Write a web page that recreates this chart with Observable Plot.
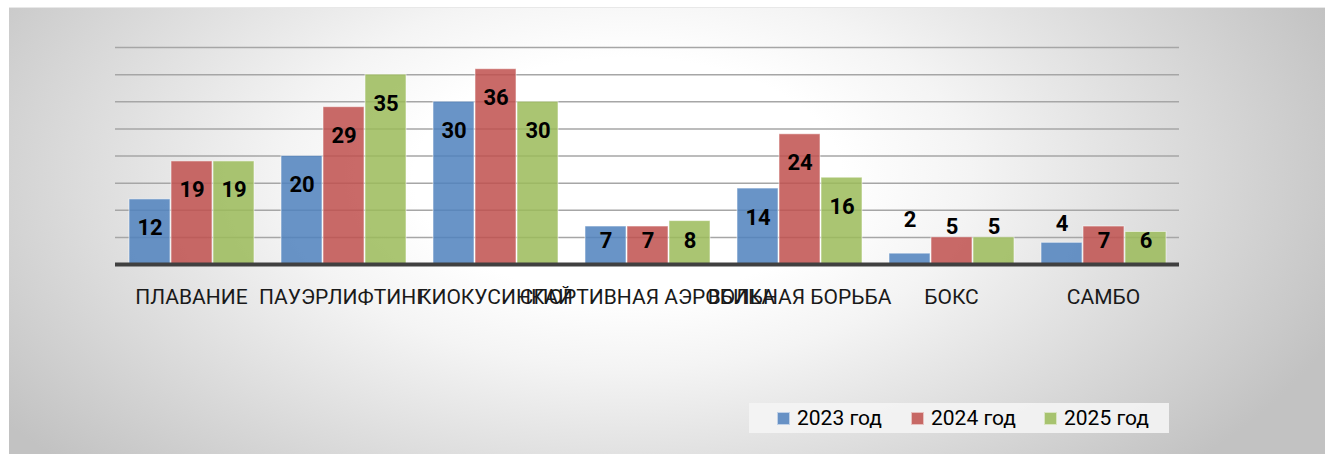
<!DOCTYPE html>
<html>
<head>
<meta charset="utf-8">
<script src="https://cdn.jsdelivr.net/npm/d3@7"></script>
<script src="https://cdn.jsdelivr.net/npm/@observablehq/plot@0.6"></script>
<style>
  html, body { margin: 0; padding: 0; background: #fff; }
  #page { position: relative; width: 1325px; height: 454px; overflow: hidden; font-family: Roboto, "Noto Sans", sans-serif; }
  #bg { position: absolute; left: 9px; top: 7px; width: 1316px; height: 447px;
        background: radial-gradient(ellipse 58% 95% at 47% 38%, #ffffff 28%, #f4f4f4 45%, #c2c2c2 100%); }
  #bgline { position: absolute; left: 9px; top: 7px; width: 1316px; height: 1px; background: #e8e8e8; }
  #chart { position: absolute; left: 0; top: 0; }
  #legend { position: absolute; left: 749px; top: 403px; width: 420px; height: 30px; background: rgba(244,244,244,0.9); }
  .li { position: absolute; top: 0; height: 30px; display: flex; align-items: center; font-size: 21px; color: #000; white-space: nowrap; }
  .sw { width: 13px; height: 13px; margin-right: 7px; box-sizing: border-box; border: 1px solid rgba(255,255,255,0.6); }
</style>
</head>
<body>
<div id="page">
  <div id="bg"></div>
  <div id="bgline"></div>
  <div id="chart"></div>
  <div id="legend"></div>
</div>
<script>
const categories = ["ПЛАВАНИЕ", "ПАУЭРЛИФТИНГ", "КИОКУСИНКАЙ", "СПОРТИВНАЯ АЭРОБИКА", "ВОЛЬНАЯ БОРЬБА", "БОКС", "САМБО"];
const years = ["2023 год", "2024 год", "2025 год"];
const values2023 = [12, 20, 30, 7, 14, 2, 4];
const values2024 = [19, 29, 36, 7, 24, 5, 7];
const values2025 = [19, 35, 30, 8, 16, 5, 6];
const colors = ["#4F81BD", "#C0504D", "#9BBB59"];
const gridTicks = [5, 10, 15, 20, 25, 30, 35, 40];

const series = [values2023, values2024, values2025];
const data = [];
categories.forEach((c, i) => {
  years.forEach((y, j) => data.push({category: c, year: y, value: series[j][i]}));
});

// data label placement similar to the source (inside end, small bars above)
function labelY(v) {
  if (v >= 12) return v - 5.35;
  if (v >= 6) return 4.4;
  return 9 - v * 0.4;
}

const chart = Plot.plot({
  width: 1325,
  height: 330,
  marginTop: 47,
  marginBottom: 66,
  marginLeft: 113,
  marginRight: 145,
  style: {background: "transparent", fontFamily: "Roboto, 'Noto Sans', sans-serif", overflow: "visible"},
  fx: {domain: categories, padding: 0, axis: null},
  x: {domain: years, paddingInner: 0.03, paddingOuter: 0.32, axis: null},
  y: {domain: [0, 40], axis: null},
  color: {domain: years, range: colors},
  marks: [
    Plot.ruleY(gridTicks, {y: d => d, stroke: "#a6a6a6", strokeWidth: 1.5}),
    Plot.barY(data, {fx: "category", x: "year", y: "value", fill: "year", fillOpacity: 0.85,
                     stroke: "#ffffff", strokeOpacity: 0.55, strokeWidth: 1}),
    Plot.ruleY([0], {stroke: "#404040", strokeWidth: 4}),
    Plot.text(data, {fx: "category", x: "year", y: d => labelY(d.value), text: d => String(d.value),
                     fontSize: 22, fontWeight: "bold", fill: "#000", lineAnchor: "middle"}),
    Plot.text(categories, {fx: d => d, text: d => d, frameAnchor: "bottom", dy: 33,
                           fontSize: 21, fill: "#1a1a1a", lineAnchor: "middle"})
  ]
});
document.getElementById("chart").appendChild(chart);

const legend = document.getElementById("legend");
const legendStarts = [28, 162, 295];
years.forEach((y, j) => {
  const item = document.createElement("div");
  item.className = "li";
  item.style.left = legendStarts[j] + "px";
  const sw = document.createElement("span");
  sw.className = "sw";
  sw.style.background = colors[j];
  sw.style.opacity = 0.85;
  const t = document.createElement("span");
  t.textContent = y;
  item.appendChild(sw);
  item.appendChild(t);
  legend.appendChild(item);
});
</script>
</body>
</html>
